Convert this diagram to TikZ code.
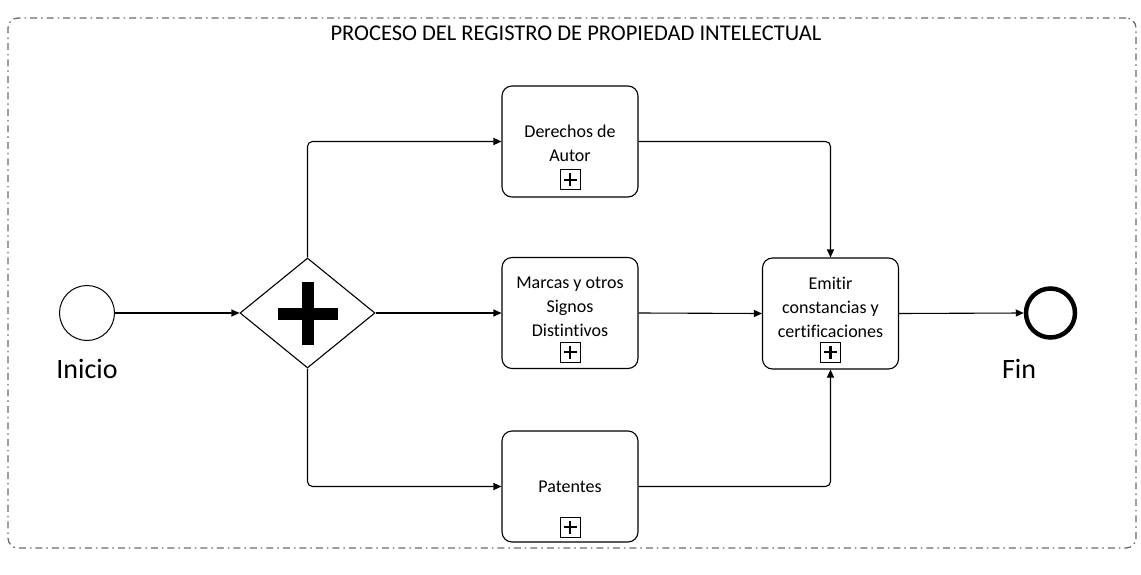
\documentclass[tikz,border=0pt]{standalone}
\usepackage{fontspec}
\setmainfont{Carlito}[Ligatures={NoCommon}]
\newcommand{\nolig}{\kern0pt{}}
\usetikzlibrary{arrows.meta,shapes.geometric}
\begin{document}
\begin{tikzpicture}[x=1pt,y=-1pt,
  flow/.style={draw=black,line width=1.1pt,-{Triangle[length=8pt,width=7pt]}},
  task/.style={draw=black,line width=1.1pt,rounded corners=10pt,minimum width=136pt,minimum height=111pt,inner sep=0pt,fill=white},
  tasktext/.style={align=center,font=\fontsize{18}{24}\selectfont,inner sep=0pt},
  subproc/.style={draw=black,line width=1pt,minimum size=20pt,inner sep=0pt},
  evlabel/.style={font=\fontsize{28}{32}\selectfont,anchor=base,inner sep=0pt}]
\useasboundingbox (0,0) rectangle (1141,575);
% outer frame
\node[draw=gray!85!black,line width=1.3pt,rounded corners=10pt,dash pattern=on 7pt off 4pt on 1.5pt off 4pt,
  minimum width=1128pt,minimum height=530pt,inner sep=0pt] (frame) at (572,283) {};
\node[font=\fontsize{22.5}{26}\selectfont,anchor=base,inner sep=0pt] (title) at (576,41) {PROCESO DEL REGISTRO DE PROPIEDAD INTELECTUAL};
% start
\node[draw=black,circle,line width=1pt,minimum size=55pt,inner sep=0pt] (start) at (87,313) {};
\node[evlabel] (inicio) at (87,378) {Inicio};
% gateway
\node[draw=black,diamond,line width=1.1pt,aspect=1.227,minimum width=135pt,minimum height=110pt,inner sep=0pt] (gw) at (307.5,313) {};
\fill (278,307.5) rectangle (338,319.5);
\fill (302,282) rectangle (314,345);
% tasks
\node[task] (der) at (570,141.5) {};
\node[tasktext] (dert) at (570,143) {Derechos de\\Autor};
\node[subproc] (derp) at (570,180) {};
\node[task] (mar) at (570,313) {};
\node[tasktext] (mart) at (570,307) {Marcas y otros\\Signos\\Dist\nolig in\nolig t\nolig ivos};
\node[subproc] (marp) at (570,352) {};
\node[task] (pat) at (570,486.5) {};
\node[tasktext] (patt) at (570,487) {Patentes};
\node[subproc] (patp) at (570,527) {};
\node[task] (emi) at (830.5,313.5) {};
\node[tasktext] (emit) at (830.5,307) {Emit\nolig ir\\constancias y\\cert\nolig i\nolig f\nolig icaciones};
\node[subproc] (emip) at (830.5,352) {};
% plus signs in markers
\foreach \p in {derp,marp,patp,emip}{
  \fill ([xshift=-6.5pt,yshift=-1.3pt]\p.center) rectangle ([xshift=6.5pt,yshift=1.3pt]\p.center);
  \fill ([xshift=-1.3pt,yshift=-6.5pt]\p.center) rectangle ([xshift=1.3pt,yshift=6.5pt]\p.center);
}
% end
\node[draw=black,circle,line width=4.5pt,minimum size=49pt,inner sep=0pt] (fin) at (1050.5,313) {};
\node[evlabel] (fint) at (1019,378) {Fin};
% flows
\draw[flow] (start) -- (gw.west);
\draw[flow,rounded corners=5pt] (gw.north) |- (der.west);
\draw[flow] (gw.east) -- (mar.west);
\draw[flow,rounded corners=5pt] (gw.south) |- (pat.west);
\draw[flow,rounded corners=5pt] (der.east) -| (emi.north);
\draw[flow] (mar.east) -- (emi.west);
\draw[flow,rounded corners=5pt] (pat.east) -| (emi.south);
\draw[flow] (emi.east) -- (fin.west);
\end{tikzpicture}
\end{document}
